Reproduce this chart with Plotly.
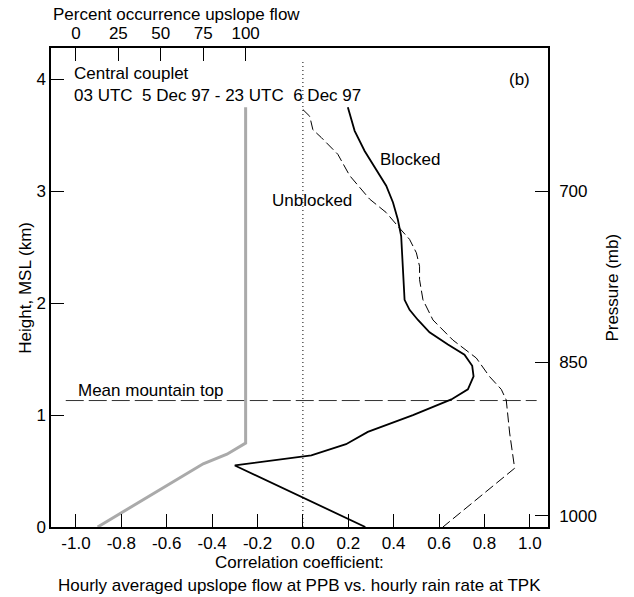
import plotly.graph_objects as go

# ---------------- data ----------------
blocked_height = [3.75, 3.54, 3.36, 3.20, 3.05, 2.90, 2.75, 2.60, 2.42, 2.21, 2.03, 1.94, 1.85,
                  1.74, 1.63, 1.54, 1.44, 1.345, 1.23, 1.14, 1.0, 0.85, 0.74, 0.64, 0.55, 0.0]
blocked_corr = [0.198, 0.228, 0.272, 0.323, 0.367, 0.397, 0.418, 0.433, 0.438, 0.444, 0.448, 0.47, 0.507,
                0.558, 0.639, 0.712, 0.746, 0.752, 0.727, 0.654, 0.485, 0.286, 0.19, 0.037, -0.30, 0.275]

unblocked_height = [3.73, 3.67, 3.55, 3.48, 3.33, 3.14, 2.93, 2.81, 2.67, 2.57, 2.45, 2.33, 2.21,
                    2.03, 1.85, 1.67, 1.51, 1.345, 1.23, 1.135, 0.84, 0.525, 0.0]
unblocked_corr = [0.0, 0.03, 0.044, 0.081, 0.154, 0.206, 0.294, 0.367, 0.426, 0.47, 0.50, 0.514, 0.514,
                  0.529, 0.573, 0.661, 0.764, 0.822, 0.874, 0.896, 0.911, 0.933, 0.617]

upslope_height = [3.75, 0.75, 0.65, 0.565, 0.0]
upslope_pct = [100, 100, 89, 75, 12.8]

mountain_top_height = 1.13
mountain_x = [-1.045, 1.03]
zero_line_top = 4.16

corr_ticks = [-1.0, -0.8, -0.6, -0.4, -0.2, 0.0, 0.2, 0.4, 0.6, 0.8, 1.0]
pct_ticks = [0, 25, 50, 75, 100]
height_ticks = [0, 1, 2, 3, 4]
pressure_heights = [3.0, 1.47, 0.1]
pressure_labels = ["700", "850", "1000"]

# ---------------- figure ----------------
FONT = "Liberation Sans, Arial, Helvetica, sans-serif"
FS = 17
fig = go.Figure()

fig.add_trace(go.Scatter(x=upslope_pct, y=upslope_height, mode="lines", xaxis="x2", yaxis="y",
                         line=dict(color="#aaaaaa", width=3), showlegend=False, hoverinfo="skip"))
fig.add_trace(go.Scatter(x=[0, 0], y=[0, zero_line_top], mode="lines",
                         line=dict(color="black", width=1, dash="1px,3px"), showlegend=False))
fig.add_trace(go.Scatter(x=mountain_x, y=[mountain_top_height] * 2, mode="lines",
                         line=dict(color="#333333", width=1, dash="18px,5px"), showlegend=False))
fig.add_trace(go.Scatter(x=unblocked_corr, y=unblocked_height, mode="lines",
                         line=dict(color="black", width=1, dash="10px,4px"), showlegend=False))
fig.add_trace(go.Scatter(x=blocked_corr, y=blocked_height, mode="lines",
                         line=dict(color="black", width=1.8), showlegend=False))
# dummy trace for right axis
fig.add_trace(go.Scatter(x=[0], y=[0], yaxis="y2", mode="markers", marker=dict(opacity=0),
                         showlegend=False, hoverinfo="skip"))

axis_common = dict(showgrid=False, zeroline=False, showline=True, linecolor="black", linewidth=1.5,
                   ticks="inside", ticklen=13, tickcolor="black", tickwidth=1,
                   tickfont=dict(family=FONT, size=FS, color="black"))

fig.update_layout(
    width=634, height=597,
    margin=dict(l=51, r=86, t=48, b=70),
    paper_bgcolor="white", plot_bgcolor="white",
    font=dict(family=FONT, size=FS, color="black"),
    xaxis=dict(range=[-1.11, 1.08], tickvals=corr_ticks,
               ticktext=[f"{v:.1f}" for v in corr_ticks], **axis_common),
    xaxis2=dict(range=[-14.7, 278.2], overlaying="x", side="top", tickvals=pct_ticks,
                ticktext=[str(v) for v in pct_ticks], **axis_common),
    yaxis=dict(range=[0, 4.28], tickvals=height_ticks,
               ticktext=[str(v) for v in height_ticks], **axis_common),
    yaxis2=dict(range=[0, 4.28], overlaying="y", side="right", tickvals=pressure_heights,
                ticktext=pressure_labels, ticklabelstandoff=6, **axis_common),
)

ann = []
def text(x, y, t, xref="x", yref="y", xanchor="center", yanchor="middle", angle=0, size=FS):
    ann.append(dict(x=x, y=y, text=t, xref=xref, yref=yref, xanchor=xanchor, yanchor=yanchor,
                    showarrow=False, textangle=angle, font=dict(family=FONT, size=size, color="black")))

text(0.2535, 1.069, "Percent occurrence upslope flow", xref="paper", yref="paper")
text(-1.019, 4.05, "Central couplet", xanchor="left")
text(-1.019, 3.86, "03 UTC  5 Dec 97 - 23 UTC  6 Dec 97", xanchor="left")
text(0.955, 4.0, "(b)")
text(0.472, 3.28, "Blocked")
text(0.04, 2.92, "Unblocked")
text(-0.668, 1.22, "Mean mountain top")
text(0.5, -0.075, "Correlation coefficient:", xref="paper", yref="paper")
text(0.5, -0.123, "Hourly averaged upslope flow at PPB vs. hourly rain rate at TPK", xref="paper", yref="paper")
text(-0.052, 0.5, "Height, MSL (km)", xref="paper", yref="paper", angle=-90)
text(1.129, 0.5, "Pressure (mb)", xref="paper", yref="paper", angle=-90)
fig.update_layout(annotations=ann)

fig.write_html("out.html")
